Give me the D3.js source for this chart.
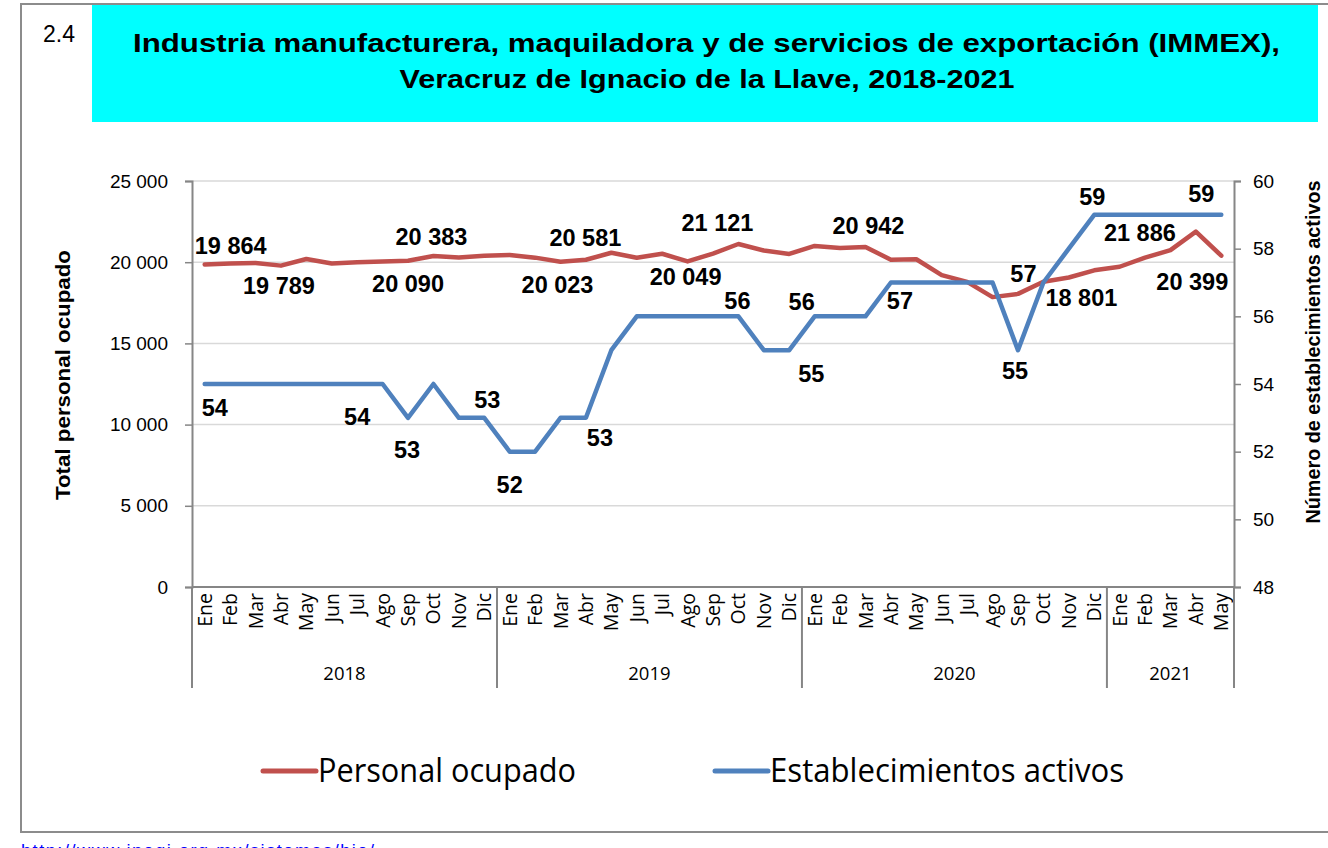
<!DOCTYPE html>
<html>
<head>
<meta charset="utf-8">
<script src="https://cdn.jsdelivr.net/npm/d3@7"></script>
<style>
  html, body { margin: 0; padding: 0; background: #fff; }
  svg { display: block; }
</style>
</head>
<body>
<svg id="chart" width="1328" height="848"></svg>
<script>
// ---------- DATA ----------
const monthNames = ["Ene","Feb","Mar","Abr","May","Jun","Jul","Ago","Sep","Oct","Nov","Dic"];
const years = ["2018","2019","2020","2021"];
const monthsPerYear = [12, 12, 12, 5];

const personalOcupado = [
  19864, 19920, 19950, 19789, 20200, 19920, 19990, 20040, 20090, 20383, 20290, 20400,
  20450, 20280, 20023, 20150, 20581, 20270, 20520, 20049, 20530, 21121, 20720, 20510,
  21000, 20880, 20942, 20150, 20180, 19200, 18790, 17850, 18050, 18801, 19060, 19500,
  19720, 20280, 20740, 21886, 20399
];
const establecimientos = [
  54, 54, 54, 54, 54, 54, 54, 54, 53, 54, 53, 53,
  52, 52, 53, 53, 55, 56, 56, 56, 56, 56, 55, 55,
  56, 56, 56, 57, 57, 57, 57, 57, 55, 57, 58, 59,
  59, 59, 59, 59, 59
];
const leftTicks = [0, 5000, 10000, 15000, 20000, 25000];
const rightTicks = [48, 50, 52, 54, 56, 58, 60];

// which points carry a data label
const personalLabelIdx = [0, 3, 8, 9, 14, 16, 19, 21, 26, 33, 39, 40];
const establecLabelIdx = [0, 6, 8, 11, 12, 15, 21, 23, 24, 27, 32, 33, 35, 40];

// label offsets from their point (layout only)
const personalLabelOffset = [[26,-19],[-2,20],[0,23],[-2,-19],[-3,23],[-26,-15],[-2,15],[-21,-21],[3,-21],[38,16],[-56,1],[-29,26]];
const establecLabelOffset = [[10,24],[0,33],[-1,32],[3,-18],[0,33],[14,20],[-1,-16],[22,23],[-13,-15],[9,18],[-3,20],[-20,-9],[-2,-18],[-20,-21]];

// ---------- BUILD ----------
const periods = [];
years.forEach((y, yi) => {
  for (let m = 0; m < monthsPerYear[yi]; m++) periods.push({ year: y, month: monthNames[m], idx: periods.length });
});

const svg = d3.select("#chart");
const RED = "#C0504D", BLUE = "#4F81BD", AXIS = "#868686", GRID = "#D9D9D9";

// frame
svg.append("rect").attr("x", 21).attr("y", 4).attr("width", 1320).attr("height", 828)
  .attr("fill", "none").attr("stroke", "#8c8c8c").attr("stroke-width", 2);

// title box
svg.append("rect").attr("x", 92).attr("y", 5).attr("width", 1226).attr("height", 117).attr("fill", "#00FFFF");
svg.append("text").attr("x", 43).attr("y", 42).text("2.4")
  .attr("font-family", "Liberation Sans, Arial, sans-serif").attr("font-size", 23).attr("fill", "#000");
const tFont = "Liberation Sans, Arial, sans-serif";
svg.append("text").attr("x", 706.5).attr("y", 52).attr("text-anchor", "middle")
  .attr("font-family", tFont).attr("font-weight", "bold").attr("font-size", 26)
  .attr("textLength", 1147).attr("lengthAdjust", "spacingAndGlyphs")
  .text("Industria manufacturera, maquiladora y de servicios de exportación (IMMEX),");
svg.append("text").attr("x", 707).attr("y", 88).attr("text-anchor", "middle")
  .attr("font-family", tFont).attr("font-weight", "bold").attr("font-size", 26)
  .attr("textLength", 615).attr("lengthAdjust", "spacingAndGlyphs")
  .text("Veracruz de Ignacio de la Llave, 2018-2021");

// scales
const x = d3.scaleBand().domain(periods.map(d => d.idx)).range([192, 1234]).padding(0);
const cx = i => x(i) + x.bandwidth() / 2;
const yL = d3.scaleLinear().domain([0, 25000]).range([587, 181]);
const yR = d3.scaleLinear().domain([48, 60]).range([587, 181]);

const loc = d3.formatLocale({ decimal: ".", thousands: " ", grouping: [3], currency: ["", ""] });
const fmt = loc.format(",d");

// gridlines
svg.append("g").selectAll("line").data(leftTicks.filter(t => t > 0)).join("line")
  .attr("x1", 192).attr("x2", 1234).attr("y1", d => yL(d)).attr("y2", d => yL(d))
  .attr("stroke", GRID).attr("stroke-width", 1.5);

// left axis
const gL = svg.append("g").attr("transform", "translate(192,0)")
  .call(d3.axisLeft(yL).tickValues(leftTicks).tickFormat(fmt).tickSize(7).tickPadding(17));
gL.select(".domain").attr("stroke", AXIS).attr("stroke-width", 2);
gL.selectAll(".tick line").attr("stroke", AXIS).attr("stroke-width", 1.5);
gL.selectAll(".tick text").attr("font-family", "Liberation Sans, Arial, sans-serif").attr("font-size", 19).attr("fill", "#000");

// right axis
const gR = svg.append("g").attr("transform", "translate(1234,0)")
  .call(d3.axisRight(yR).tickValues(rightTicks).tickSize(7).tickPadding(12));
gR.select(".domain").attr("stroke", AXIS).attr("stroke-width", 2);
gR.selectAll(".tick line").attr("stroke", AXIS).attr("stroke-width", 1.5);
gR.selectAll(".tick text").attr("font-family", "Liberation Sans, Arial, sans-serif").attr("font-size", 19).attr("fill", "#000");

// x axis line
svg.append("line").attr("x1", 192).attr("x2", 1234).attr("y1", 587).attr("y2", 587)
  .attr("stroke", AXIS).attr("stroke-width", 2);

// month labels
svg.append("g").selectAll("text").data(periods).join("text")
  .attr("transform", d => `translate(${cx(d.idx)},593) rotate(-90)`)
  .attr("text-anchor", "end").attr("dy", "0.36em")
  .attr("font-family", "Open Sans, Noto Sans, sans-serif").attr("font-size", 19.5).attr("fill", "#000")
  .text(d => d.month);

// year separators and labels
const yearStart = [];
let acc = 0;
monthsPerYear.forEach(n => { yearStart.push(acc); acc += n; });
const sepX = yearStart.map(s => x(s)).concat([x(periods.length - 1) + x.bandwidth()]);
svg.append("g").selectAll("line").data(sepX).join("line")
  .attr("x1", d => d).attr("x2", d => d).attr("y1", 587).attr("y2", 688)
  .attr("stroke", AXIS).attr("stroke-width", 2);
svg.append("g").selectAll("text").data(years).join("text")
  .attr("x", (d, i) => (sepX[i] + sepX[i + 1]) / 2).attr("y", 680)
  .attr("text-anchor", "middle")
  .attr("font-family", "Open Sans, Noto Sans, sans-serif").attr("font-size", 18.5).attr("fill", "#000")
  .text(d => d);

// axis titles
svg.append("text").attr("transform", "translate(63,375) rotate(-90)")
  .attr("text-anchor", "middle").attr("dy", "0.35em")
  .attr("font-family", "Liberation Sans, Arial, sans-serif").attr("font-weight", "bold").attr("font-size", 20)
  .attr("textLength", 250).attr("lengthAdjust", "spacingAndGlyphs")
  .text("Total personal ocupado");
svg.append("text").attr("transform", "translate(1313,352) rotate(-90)")
  .attr("text-anchor", "middle").attr("dy", "0.35em")
  .attr("font-family", "Liberation Sans, Arial, sans-serif").attr("font-weight", "bold").attr("font-size", 20)
  .attr("textLength", 343).attr("lengthAdjust", "spacingAndGlyphs")
  .text("Número de establecimientos activos");

// lines
const lineL = d3.line().x((d, i) => cx(i)).y(d => yL(d));
const lineR = d3.line().x((d, i) => cx(i)).y(d => yR(d));
svg.append("path").datum(personalOcupado).attr("d", lineL)
  .attr("fill", "none").attr("stroke", RED).attr("stroke-width", 4.5).attr("stroke-linejoin", "round").attr("stroke-linecap", "round");
svg.append("path").datum(establecimientos).attr("d", lineR)
  .attr("fill", "none").attr("stroke", BLUE).attr("stroke-width", 4.5).attr("stroke-linejoin", "round").attr("stroke-linecap", "round");

// data labels
const lblFont = "Liberation Sans, Arial, sans-serif";
svg.append("g").selectAll("text").data(personalLabelIdx).join("text")
  .attr("x", (d, k) => cx(d) + personalLabelOffset[k][0])
  .attr("y", (d, k) => yL(personalOcupado[d]) + personalLabelOffset[k][1])
  .attr("dy", "0.36em").attr("text-anchor", "middle")
  .attr("font-family", lblFont).attr("font-weight", "bold").attr("font-size", 23.5).attr("fill", "#000")
  .text(d => fmt(personalOcupado[d]));
svg.append("g").selectAll("text").data(establecLabelIdx).join("text")
  .attr("x", (d, k) => cx(d) + establecLabelOffset[k][0])
  .attr("y", (d, k) => yR(establecimientos[d]) + establecLabelOffset[k][1])
  .attr("dy", "0.36em").attr("text-anchor", "middle")
  .attr("font-family", lblFont).attr("font-weight", "bold").attr("font-size", 23.5).attr("fill", "#000")
  .text(d => fmt(establecimientos[d]));

// legend
const legend = [
  { name: "Personal ocupado", color: RED, x0: 263, len: 258 },
  { name: "Establecimientos activos", color: BLUE, x0: 715, len: 354 }
];
const lg = svg.append("g").selectAll("g").data(legend).join("g");
lg.append("line").attr("x1", d => d.x0).attr("x2", d => d.x0 + 53).attr("y1", 771).attr("y2", 771)
  .attr("stroke", d => d.color).attr("stroke-width", 5).attr("stroke-linecap", "round");
lg.append("text").attr("x", d => d.x0 + 55).attr("y", 782)
  .attr("font-family", "Open Sans, Noto Sans, sans-serif").attr("font-size", 33).attr("fill", "#000")
  .attr("textLength", d => d.len).attr("lengthAdjust", "spacingAndGlyphs")
  .text(d => d.name);

// source link (cut at bottom edge, as in the reference)
svg.append("text").attr("x", 21).attr("y", 857)
  .attr("font-family", "Liberation Sans, Arial, sans-serif").attr("font-size", 18).attr("fill", "#0000FF")
  .attr("textLength", 353).attr("lengthAdjust", "spacing")
  .text("http://www.inegi.org.mx/sistemas/bie/");
</script>
</body>
</html>
